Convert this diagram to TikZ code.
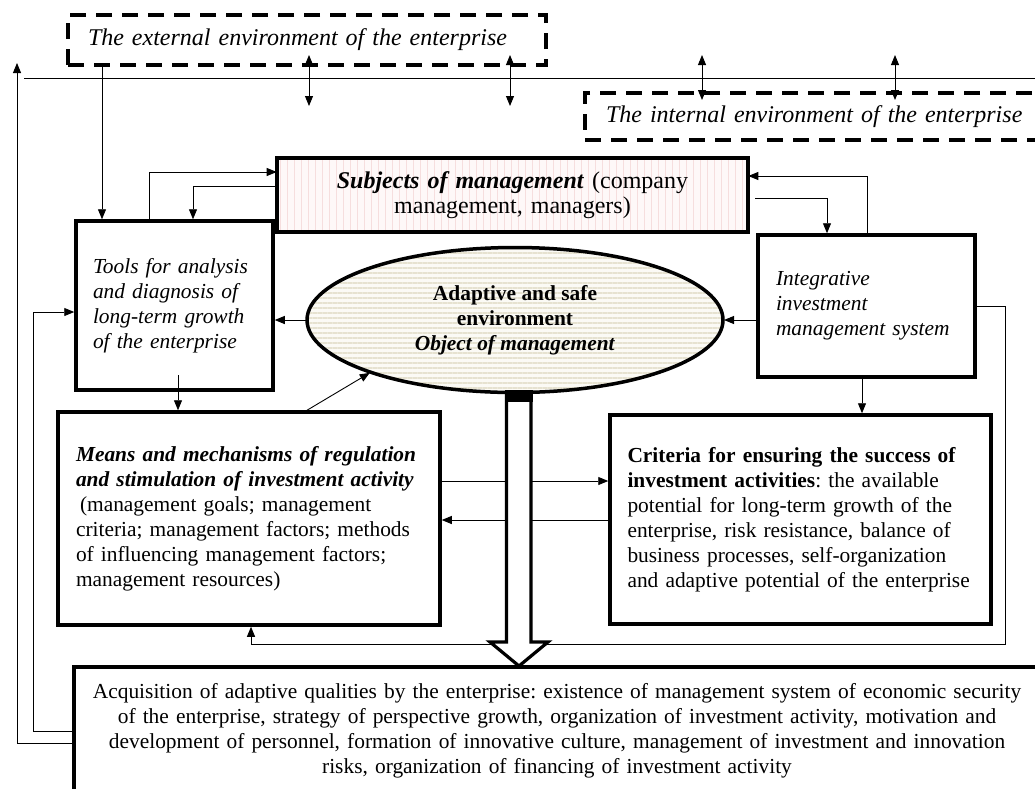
\documentclass[tikz,border=0pt]{standalone}
\usepackage{fontspec}
\setmainfont{Liberation Serif}
\frenchspacing
\usetikzlibrary{arrows.meta,patterns.meta,shapes.geometric,calc}
\definecolor{pinkbg}{RGB}{254,248,248}
\definecolor{pinkline}{RGB}{246,222,222}
\definecolor{creambg}{RGB}{251,250,245}
\definecolor{stripe}{RGB}{230,226,208}
\begin{document}
\begin{tikzpicture}[x=1pt,y=-1pt,
  font=\fontsize{21.4}{25}\selectfont,
  box/.style={draw,line width=3.5pt,inner sep=0pt},
  envbox/.style={draw,line width=4pt,dash pattern=on 16pt off 10pt,inner sep=0pt,font=\fontsize{24}{26}\selectfont\itshape},
  ln/.style={line width=0.9pt},
  arr/.style={line width=0.9pt,-{Triangle[length=10pt,width=8pt]}},
  dbl/.style={line width=0.9pt,{Triangle[length=10pt,width=8pt]}-{Triangle[length=10pt,width=8pt]}}]
\useasboundingbox (0,0) rectangle (1035,788);

% environment boxes
\node[envbox,minimum width=478pt,minimum height=50pt,text width=438pt,align=left] (ext) at (307,40) {\raisebox{-4pt}{The external environment of the enterprise}};
\node[envbox,minimum width=460pt,minimum height=47pt,text width=418pt,align=left] (int) at (815,116.5) {The internal environment of the enterprise};

% main boxes
\node[box,minimum width=471pt,minimum height=74pt,text width=440pt,align=center,
  font=\fontsize{24}{25}\selectfont,
  preaction={fill=pinkbg},pattern={Lines[angle=90,distance=7pt,line width=0.6pt]},pattern color=pinkline] (subj) at (512.5,195)
  {\textbf{\textit{Subjects of management}} (company\\ management, managers)};

\node[box,minimum width=197pt,minimum height=169pt,text width=163pt,align=left,font=\fontsize{21.4}{25}\selectfont\itshape] (tools) at (174.5,305.5)
  {Tools for analysis\\ and diagnosis of\\ long-term growth\\ of the enterprise};

\node[ellipse,draw,line width=3.5pt,minimum width=416pt,minimum height=145pt,inner sep=0pt,align=center,
  preaction={fill=creambg},pattern={Lines[angle=0,distance=5pt,line width=2pt]},pattern color=stripe] (ell) at (515,320)
  {\textbf{Adaptive and safe}\\ \textbf{environment}\\ \textbf{\textit{Object of management}}};

\node[box,minimum width=217pt,minimum height=142pt,text width=181pt,align=left,font=\fontsize{21.4}{25}\selectfont\itshape] (integ) at (866.5,306)
  {Integrative\\ investment\\ management system};

\node[box,minimum width=382pt,minimum height=213pt,text width=346pt,align=left] (means) at (249,518.5)
  {\textbf{\textit{Means and mechanisms of regulation}}\\ \textbf{\textit{and stimulation of investment activity}}\\ \hspace*{4pt}(management goals; management\\ criteria; management factors; methods\\ of influencing management factors;\\ management resources)};

\node[box,minimum width=381pt,minimum height=209pt,text width=346pt,align=left] (crit) at (800.5,519.5)
  {\textbf{Criteria for ensuring the success of}\\ \textbf{investment activities}: the available\\ potential for long-term growth of the\\ enterprise, risk resistance, balance of\\ business processes, self-organization\\ and adaptive potential of the enterprise};

\node[box,minimum width=966pt,minimum height=128pt,text width=955pt,align=center] (acq) at (557,731)
  {Acquisition of adaptive qualities by the enterprise: existence of management system of economic security\\ of the enterprise, strategy of perspective growth, organization of investment activity, motivation and\\ development of personnel, formation of innovative culture, management of investment and innovation\\ risks, organization of financing of investment activity};

% helper coordinates
\coordinate (sepL) at (24,78);
\coordinate (sepR) at (1040,78);
\coordinate (xA) at (102,0);
\coordinate (d1t) at (309,55); \coordinate (d1b) at (309,106);
\coordinate (d2t) at (510,55); \coordinate (d2b) at (510,106);
\coordinate (d3t) at (702,55); \coordinate (d3b) at (702,100);
\coordinate (d4t) at (895,55); \coordinate (d4b) at (895,100);
\coordinate (p1) at (149,172);
\coordinate (p2) at (193,186);
\coordinate (p3a) at (755,198); \coordinate (p3) at (827,198);
\coordinate (p4) at (867,176);
\coordinate (p5) at (178,375);
\coordinate (p6) at (307,0);
\coordinate (p7) at (0,481);
\coordinate (p8) at (0,520);
\coordinate (p9) at (862,0);
\coordinate (r1) at (1005,306);
\coordinate (r2) at (251,644);
\coordinate (q1) at (17,743); \coordinate (q2) at (17,63);
\coordinate (q3) at (33,731); \coordinate (q4) at (33,312);

% connectors
\draw[ln] (sepL) -- (sepR);
\draw[arr] (ext.south -| xA) -- (tools.north -| xA);
\draw[dbl] (d1t) -- (d1b);
\draw[dbl] (d2t) -- (d2b);
\draw[dbl] (d3t) -- (d3b);
\draw[dbl] (d4t) -- (d4b);
\draw[arr] (tools.north -| p1) |- (subj.west |- p1);
\draw[arr] (subj.west |- p2) -| (tools.north -| p2);
\draw[arr] (p3a) -| (integ.north -| p3);
\draw[arr] (integ.north -| p4) |- (subj.east |- p4);
\draw[arr] (ell.west) -- (tools.east |- ell.west);
\draw[arr] (integ.west |- ell.east) -- (ell.east);
\draw[arr] (p5) -- (means.north -| p5);
\draw[arr] (means.north -| p6) -- (ell.200);
\draw[arr] (means.east |- p7) -- (crit.west |- p7);
\draw[arr] (crit.west |- p8) -- (means.east |- p8);
\draw[arr] (integ.south -| p9) -- (crit.north -| p9);
\draw[arr] (integ.east |- r1) -- (r1) |- (r2) -- (means.south -| r2);
\draw[arr] (acq.west |- q1) -- (q1) -- (q2);
\draw[arr] (acq.west |- q3) -- (q3) -- (q4) -- (tools.west |- q4);

% hollow block arrow from the object of management to the result
\draw[line width=3.2pt,fill=white,line join=miter] (506.5,392) -- (506.5,642) -- (490,642) -- (519,666) -- (548,642) -- (531,642) -- (531,392);
\fill (505,390) rectangle (533,402);
\end{tikzpicture}
\end{document}
